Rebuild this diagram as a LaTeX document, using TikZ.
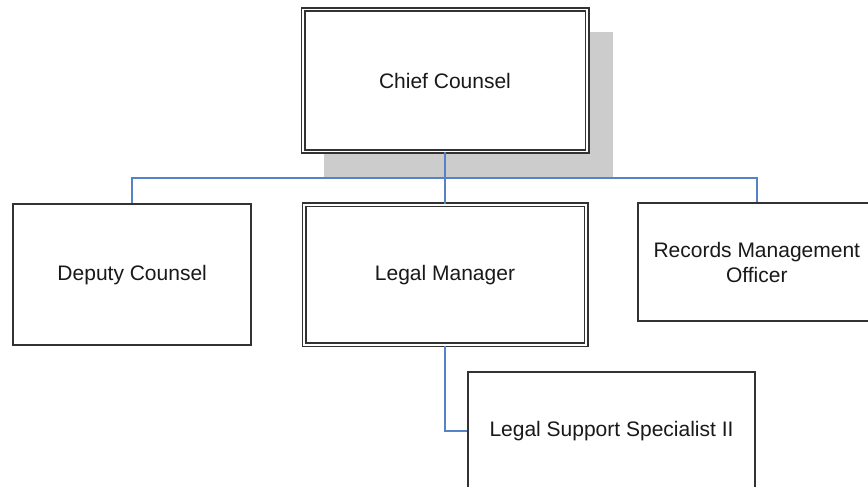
\documentclass[tikz,border=0pt]{standalone}
\usepackage{fontspec}
\setmainfont{Liberation Sans}
\usetikzlibrary{positioning,calc,backgrounds}
\definecolor{linkblue}{RGB}{88,130,200}
\definecolor{shadegray}{RGB}{204,204,204}
\definecolor{edgegray}{RGB}{50,50,50}

\begin{document}
\begin{tikzpicture}
[x=1pt,y=-1pt,
box/.style={draw=edgegray,line width=2pt,fill=white,inner sep=0pt,align=center,
text=black!90,font=\fontsize{21}{25}\selectfont},
dblbox/.style={box,line width=1.6pt,double=white,double distance=1.8pt},
link/.style={linkblue,line width=2pt}]
\useasboundingbox (0,0) rectangle (868,487);
%%
\node[dblbox,minimum width=284pt,minimum height=142pt] (chief) at (445,80.5) {Chief Counsel};
%%
\node (legalmgr) [dblbox,below=51.8pt of chief,minimum width=282pt,minimum height=140pt]
{Legal Manager};
%%
\node (deputy) [box,left=51pt of legalmgr,minimum width=238pt,minimum height=141pt]
{Deputy Counsel};
%%
\node (records) [box,above right=2pt and 50pt of legalmgr.north east,anchor=north west,
minimum width=238pt,minimum height=118pt] {Records Management\\Officer};
%%
\node (lss) [box,below right=25pt and 22pt of legalmgr.south,anchor=north west,
minimum width=287pt,minimum height=118pt] {Legal Support Specialist II};
%%
\begin{pgfonlayer}{background}
\fill[shadegray] ($(chief.north west)+(22,23)$) rectangle ($(chief.south east)+(25,25)$);
\end{pgfonlayer}
%%
\coordinate (bus) at ($(chief.south)+(0,26)$);
\draw[link] (chief.south) -- (bus) -| (deputy.north);
\draw[link] (bus) -| (records.north);
\draw[link] (bus) -- (legalmgr.north);
\draw[link] (legalmgr.south) |- (lss.west);
\end{tikzpicture}
\end{document}
